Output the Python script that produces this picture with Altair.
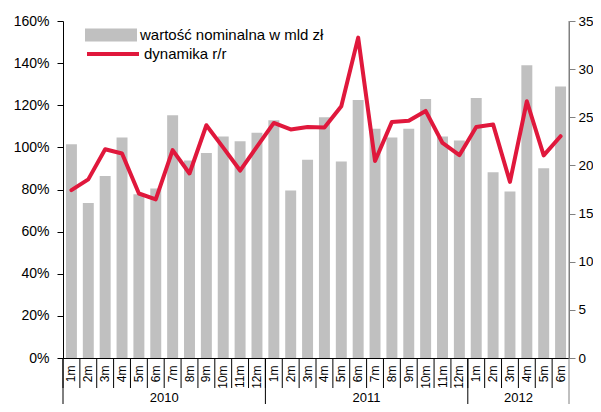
import altair as alt
import pandas as pd

years = ["2010"] * 12 + ["2011"] * 12 + ["2012"] * 6
months = ["1m", "2m", "3m", "4m", "5m", "6m", "7m", "8m", "9m", "10m", "11m", "12m",
          "1m", "2m", "3m", "4m", "5m", "6m", "7m", "8m", "9m", "10m", "11m", "12m",
          "1m", "2m", "3m", "4m", "5m", "6m"]
# wartość nominalna w mld zł (right axis)
nominal = [22.2, 16.1, 18.9, 22.9, 17.0, 17.6, 25.2, 20.5, 21.3, 23.0, 22.5, 23.4,
           24.7, 17.4, 20.6, 25.0, 20.4, 26.8, 23.8, 22.9, 23.8, 26.9, 23.0, 22.6,
           27.0, 19.3, 17.3, 30.4, 19.7, 28.2]
# dynamika r/r in % (left axis)
dynamics = [79.7, 84.8, 99.1, 97.1, 78.1, 75.3, 98.7, 87.6, 110.5, 99.9, 89.0, 100.4,
            111.6, 108.5, 109.7, 109.4, 119.5, 152.1, 93.5, 112.1, 112.6, 117.3, 102.1, 96.3,
            109.7, 110.9, 83.6, 121.9, 96.2, 105.3]
year_labels = ["2010", "2011", "2012"]
year_centers = ["2010-7m", "2011-7m", "2012-4m"]
year_starts = ["2010-1m", "2011-1m", "2012-1m"]
series_bar = "wartość nominalna w mld zł"
series_line = "dynamika r/r"

keys = [f"{y}-{m}" for y, m in zip(years, months)]
df = pd.DataFrame({"key": keys, "nominal": nominal, "dyn": dynamics,
                   "s1": series_bar, "s2": series_line})
df_years = pd.DataFrame({"key": year_centers, "year": year_labels})
df_starts = pd.DataFrame({"key": year_starts})
df_end = pd.DataFrame({"key": [keys[-1]]})

W, H = 506, 337
FONT = "Liberation Sans"
RED = "#E0183C"
GRAY = "#C0C0C0"
AX_GRAY = "#808080"

xscale = alt.Scale(domain=keys, paddingInner=0, paddingOuter=0)

x_axis = alt.Axis(title=None, labelAngle=270, ticks=False,
                  labelExpr="split(datum.value, '-')[1]",
                  labelPadding=7, labelFontSize=12, labelFont=FONT, labelColor="black",
                  labelAlign="right", labelBaseline="middle",
                  domainColor="black", domainWidth=1)

bars = alt.Chart(df).mark_bar(width=alt.RelativeBandSize(0.65)).encode(
    x=alt.X("key:N", scale=xscale, axis=x_axis),
    y=alt.Y("nominal:Q", scale=alt.Scale(domain=[0, 35], nice=False),
            axis=alt.Axis(orient="right", title=None, values=[0, 5, 10, 15, 20, 25, 30, 35],
                          grid=False, tickSize=6, tickColor=AX_GRAY, domainColor=AX_GRAY,
                          labelPadding=3, labelFontSize=13.5, labelFont=FONT,
                          labelColor="black")),
    color=alt.Color("s1:N", scale=alt.Scale(domain=[series_bar], range=[GRAY]),
                    legend=alt.Legend(orient="none", legendX=22, legendY=-12, title=None,
                                      labelFontSize=15, labelFont=FONT, labelColor="black",
                                      labelLimit=0,
                                      symbolType="M-1,-0.25H1V0.25H-1Z", symbolSize=2704,
                                      symbolStrokeWidth=0, symbolOpacity=1, labelOffset=3,
                                      padding=0)),
)

line = alt.Chart(df).mark_line(strokeWidth=4, strokeJoin="round", strokeCap="round").encode(
    x=alt.X("key:N", scale=xscale),
    y=alt.Y("dyn:Q", scale=alt.Scale(domain=[0, 160], nice=False),
            axis=alt.Axis(orient="left", title=None, values=list(range(0, 161, 20)),
                          labelExpr="datum.value + '%'", grid=False, tickSize=6,
                          tickColor="black", domainColor="black", labelPadding=8,
                          labelFontSize=14, labelFont=FONT, labelColor="black")),
    stroke=alt.Stroke("s2:N", scale=alt.Scale(domain=[series_line], range=[RED]),
                      legend=alt.Legend(orient="none", legendX=22, legendY=5, title=None,
                                        labelFontSize=15, labelFont=FONT, labelColor="black",
                                        labelLimit=0,
                                        symbolType="stroke", symbolSize=2704,
                                        symbolStrokeWidth=4, labelOffset=3, padding=0)),
)

month_sep = alt.Chart(df).mark_rule(color="black", strokeWidth=1).encode(
    x=alt.X("key:N", scale=xscale, bandPosition=0),
    y=alt.value(H), y2=alt.value(H + 30),
)

year_sep = alt.Chart(df_starts).mark_rule(color="black", strokeWidth=1).encode(
    x=alt.X("key:N", scale=xscale, bandPosition=0),
    y=alt.value(H), y2=alt.value(H + 56),
)

end_sep = alt.Chart(df_end).mark_rule(color=AX_GRAY, strokeWidth=1).encode(
    x=alt.X("key:N", scale=xscale, bandPosition=1),
    y=alt.value(0), y2=alt.value(H + 56),
)

year_text = alt.Chart(df_years).mark_text(fontSize=13, font=FONT, color="black",
                                          baseline="middle", align="center").encode(
    x=alt.X("key:N", scale=xscale, bandPosition=0),
    y=alt.value(H + 40),
    text="year:N",
)

chart = alt.layer(bars, line, month_sep, year_sep, end_sep, year_text).resolve_scale(
    y="independent", color="independent"
).properties(
    width=W, height=H,
    autosize=alt.AutoSizeParams(type="none"),
    padding={"left": 55, "top": 13, "right": 24, "bottom": 46},
).configure_view(stroke=None)

chart.save("out.html", embed_options={"renderer": "svg", "actions": False})
